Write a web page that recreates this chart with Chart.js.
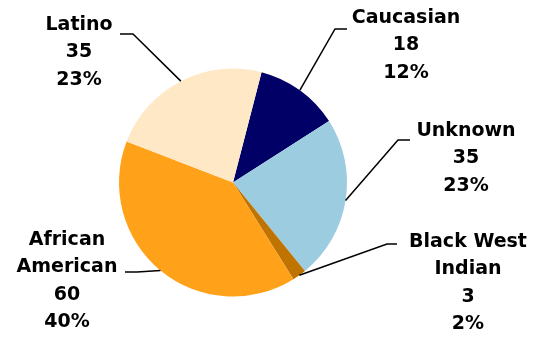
<!DOCTYPE html>
<html>
<head>
<meta charset="utf-8">
<script src="https://cdn.jsdelivr.net/npm/chart.js@4/dist/chart.umd.min.js"></script>
<style>
  html, body { margin: 0; padding: 0; background: #fff; }
  #wrap { width: 543px; height: 339px; position: relative; }
</style>
</head>
<body>
<div id="wrap"><canvas id="c" width="543" height="339"></canvas></div>
<script>
// Patient counts by ethnicity
const categories = ['Caucasian', 'Unknown', 'Black West Indian', 'African American', 'Latino'];
const counts = [18, 35, 3, 60, 35];
const sliceColors = ['#000066', '#9ccce0', '#bf7300', '#ffa21a', '#ffe8c6'];
// How each category name wraps in its callout
const nameLines = [['Caucasian'], ['Unknown'], ['Black West', 'Indian'], ['African', 'American'], ['Latino']];

// Callout layout: text block centre / first line, leader elbow and horizontal tail end
const callouts = [
  { tx: 406, ty: 18,  elbow: [335, 29],  tail: [347, 29] },
  { tx: 466, ty: 131, elbow: [398, 140], tail: [410, 140] },
  { tx: 468, ty: 242, elbow: [387, 244], tail: [397, 244] },
  { tx: 67,  ty: 240, elbow: [137, 272], tail: [125, 272] },
  { tx: 79,  ty: 25,  elbow: [133, 34],  tail: [120, 34] }
];

const total = counts.reduce((a, b) => a + b, 0);

const calloutPlugin = {
  id: 'callouts',
  afterDatasetsDraw(chart) {
    const ctx = chart.ctx;
    const meta = chart.getDatasetMeta(0);
    ctx.save();
    meta.data.forEach((arc, i) => {
      const mid = (arc.startAngle + arc.endAngle) / 2;
      const ax = arc.x + Math.cos(mid) * arc.outerRadius;
      const ay = arc.y + Math.sin(mid) * arc.outerRadius;
      const c = callouts[i];
      ctx.strokeStyle = '#000';
      ctx.lineWidth = 1.5;
      ctx.beginPath();
      ctx.moveTo(ax, ay);
      ctx.lineTo(c.elbow[0], c.elbow[1]);
      ctx.lineTo(c.tail[0], c.tail[1]);
      ctx.stroke();

      const lines = nameLines[i].concat([String(counts[i]), Math.round(counts[i] / total * 100) + '%']);
      ctx.fillStyle = '#000';
      ctx.font = 'bold 19px "DejaVu Sans"';
      ctx.textAlign = 'center';
      ctx.textBaseline = 'middle';
      lines.forEach((t, k) => ctx.fillText(t, c.tx, c.ty + k * 27.4));
    });
    ctx.restore();
  }
};

new Chart(document.getElementById('c'), {
  type: 'pie',
  data: {
    labels: categories,
    datasets: [{
      data: counts,
      backgroundColor: sliceColors,
      borderWidth: 0
    }]
  },
  options: {
    responsive: false,
    animation: false,
    rotation: 14.5,
    layout: { padding: { left: 100, right: 177, top: 68.5, bottom: 42.5 } },
    plugins: {
      legend: { display: false },
      tooltip: { enabled: false }
    }
  },
  plugins: [calloutPlugin]
});
</script>
</body>
</html>
